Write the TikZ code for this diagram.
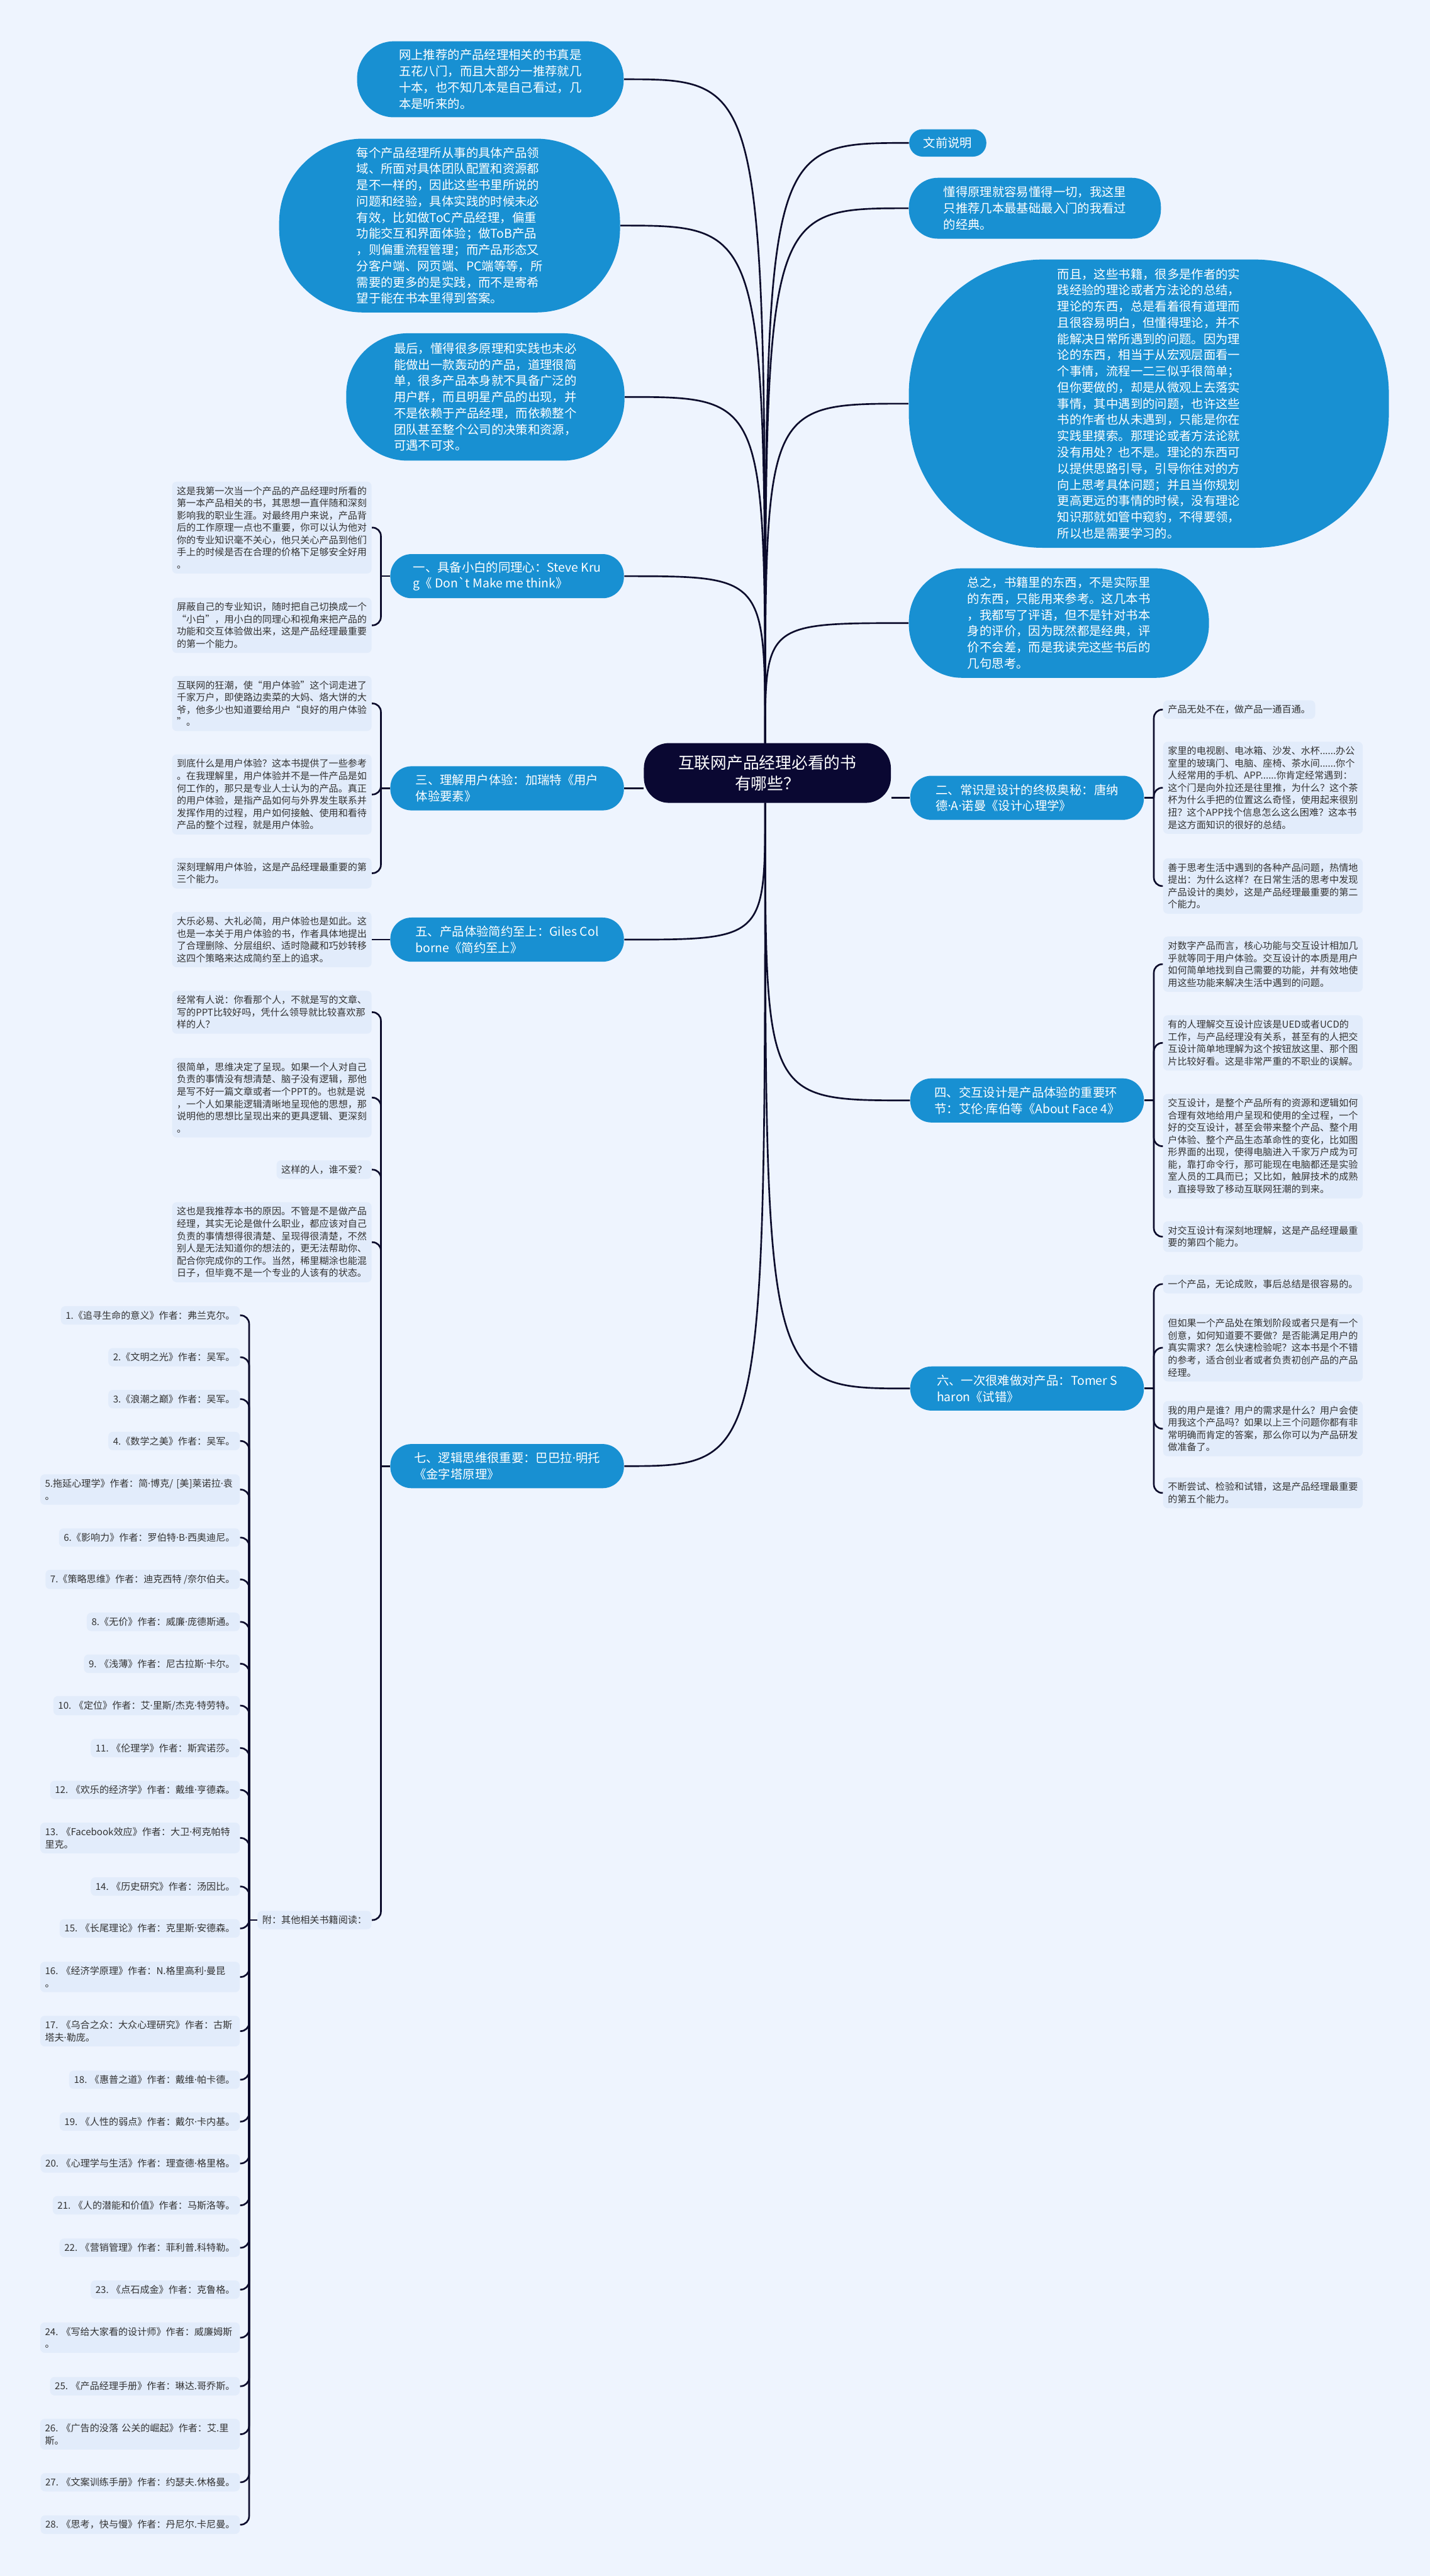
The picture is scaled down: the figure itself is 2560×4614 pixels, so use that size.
\documentclass[tikz,border=0pt]{standalone}
\usepackage{fontspec}
\setmainfont{Noto Sans CJK SC}
\newfontfamily\dotfont{Noto Sans}
\definecolor{bgcol}{HTML}{EEF4FE}
\definecolor{leafcol}{HTML}{E2ECFB}
\definecolor{bluecol}{HTML}{1890D2}
\definecolor{corecol}{HTML}{0A0832}
\definecolor{linecol}{HTML}{0C0C2C}
\newcommand\mdot{{\dotfont ·}}
\newcommand\leaffont{\fontsize{0.17cm}{0.22cm}\selectfont\hyphenpenalty=10000}
\newcommand\bubblefont{\fontsize{0.218cm}{0.29cm}\selectfont}
\newcommand\corefont{\fontsize{0.29cm}{0.37cm}\selectfont}
\begin{document}
\begin{tikzpicture}[x=0.01cm, y=0.01cm,
  link/.style={draw=linecol, line width=0.03cm},
  hook/.style={link, rounded corners=0.15cm},
  bubble/.style={fill=bluecol, text=white, rounded corners=#1, align=left, font=\bubblefont, inner sep=0pt},
  branch/.style={fill=bluecol, text=white, rounded corners=0.38cm, align=left, font=\bubblefont, minimum width=4.18cm, minimum height=0.79cm, inner sep=0pt},
  core/.style={fill=corecol, text=white, rounded corners=0.45cm, align=center, font=\corefont, minimum width=4.42cm, minimum height=1.07cm},
  leaf/.style={fill=leafcol, text=black!80, rounded corners=0.08cm, text width=3.4cm, align=left, font=\leaffont, inner sep=0.085cm},
  tag/.style={fill=leafcol, text=black!80, rounded corners=0.08cm, align=left, font=\leaffont, inner sep=0.085cm}]
\fill[bgcol] (0,0) rectangle (2560,-4614);
\useasboundingbox (0,0) rectangle (2560,-4614);

% centre
\node[core] (core) at (1374,-1384.5) {互联网产品经理必看的书\\有哪些？};
\coordinate (ctop) at (1370,-1331);
\coordinate (cbot) at (1370,-1438);

% foreword bubbles
\node[bubble=0.66cm, minimum width=4.77cm, minimum height=1.36cm] (intro1) at (878,-142) {网上推荐的产品经理相关的书真是\\五花八门，而且大部分一推荐就几\\十本，也不知几本是自己看过，几\\本是听来的。};
\node[bubble=1.5cm, minimum width=6.1cm, minimum height=3.11cm] (intro2) at (805,-404) {每个产品经理所从事的具体产品领\\域、所面对具体团队配置和资源都\\是不一样的，因此这些书里所说的\\问题和经验，具体实践的时候未必\\有效，比如做ToC产品经理，偏重\\功能交互和界面体验；做ToB产品\\，则偏重流程管理；而产品形态又\\分客户端、网页端、PC端等等，所\\需要的更多的是实践，而不是寄希\\望于能在书本里得到答案。};
\node[bubble=1.1cm, minimum width=4.98cm, minimum height=2.28cm] (intro3) at (869,-711) {最后，懂得很多原理和实践也未必\\能做出一款轰动的产品，道理很简\\单，很多产品本身就不具备广泛的\\用户群，而且明星产品的出现，并\\不是依赖于产品经理，而依赖整个\\团队甚至整个公司的决策和资源，\\可遇不可求。};
\node[bubble=0.24cm, minimum width=1.38cm, minimum height=0.49cm] (preface) at (1697,-256) {文前说明};
\node[bubble=0.52cm, minimum width=4.51cm, minimum height=1.09cm] (intro4) at (1853,-373) {懂得原理就容易懂得一切，我这里\\只推荐几本最基础最入门的我看过\\的经典。};
\node[bubble=2.4cm, minimum width=8.59cm, minimum height=5.16cm] (intro5) at (2057,-723) {而且，这些书籍，很多是作者的实\\践经验的理论或者方法论的总结，\\理论的东西，总是看着很有道理而\\且很容易明白，但懂得理论，并不\\能解决日常所遇到的问题。因为理\\论的东西，相当于从宏观层面看一\\个事情，流程一二三似乎很简单；\\但你要做的，却是从微观上去落实\\事情，其中遇到的问题，也许这些\\书的作者也从未遇到，只能是你在\\实践里摸索。那理论或者方法论就\\没有用处？也不是。理论的东西可\\以提供思路引导，引导你往对的方\\向上思考具体问题；并且当你规划\\更高更远的事情的时候，没有理论\\知识那就如管中窥豹，不得要领，\\所以也是需要学习的。};
\node[bubble=0.95cm, minimum width=5.37cm, minimum height=1.96cm] (intro6) at (1896,-1116) {总之，书籍里的东西，不是实际里\\的东西，只能用来参考。这几本书\\，我都写了评语，但不是针对书本\\身的评价，因为既然都是经典，评\\价不会差，而是我读完这些书后的\\几句思考。};

% chapters
\node[branch] (ch1) at (908,-1032) {一、具备小白的同理心：Steve Kru\\g《 Don\textasciigrave t Make me think》};
\node[branch] (ch3) at (908,-1412) {三、理解用户体验：加瑞特《用户\\体验要素》};
\node[branch] (ch5) at (908,-1683) {五、产品体验简约至上：Giles Col\\borne《简约至上》};
\node[branch] (ch7) at (908,-2626) {七、逻辑思维很重要：巴巴拉\mdot 明托\\《金字塔原理》};
\node[branch] (ch2) at (1839,-1429) {二、常识是设计的终极奥秘：唐纳\\德\mdot A\mdot 诺曼《设计心理学》};
\node[branch] (ch4) at (1839,-1971) {四、交互设计是产品体验的重要环\\节：艾伦\mdot 库伯等《About Face 4》};
\node[branch] (ch6) at (1839,-2487) {六、一次很难做对产品：Tomer S\\haron《试错》};

% centre to chapters
\draw[link] (ctop) .. controls (ctop |- intro1.east) .. (intro1.east);
\draw[link] (ctop) .. controls (ctop |- intro2.east) .. (intro2.east);
\draw[link] (ctop) .. controls (ctop |- intro3.east) .. (intro3.east);
\draw[link] (ctop) .. controls (ctop |- ch1.east) .. (ch1.east);
\draw[link] (ctop) .. controls (ctop |- preface.west) .. (preface.west);
\draw[link] (ctop) .. controls (ctop |- intro4.west) .. (intro4.west);
\draw[link] (ctop) .. controls (ctop |- intro5.west) .. (intro5.west);
\draw[link] (ctop) .. controls (ctop |- intro6.west) .. (intro6.west);
\draw[link] (ch3.east) -- (ch3.east -| core.west);
\draw[link] (core.east |- ch2.west) -- (ch2.west);
\draw[link] (cbot) .. controls (cbot |- ch5.east) .. (ch5.east);
\draw[link] (cbot) .. controls (cbot |- ch7.east) .. (ch7.east);
\draw[link] (cbot) .. controls (cbot |- ch4.west) .. (ch4.west);
\draw[link] (cbot) .. controls (cbot |- ch6.west) .. (ch6.west);

% chapter one
\node[leaf, anchor=east] (n1a) at (666,-945) {这是我第一次当一个产品的产品经理时所看的\\第一本产品相关的书，其思想一直伴随和深刻\\影响我的职业生涯。对最终用户来说，产品背\\后的工作原理一点也不重要，你可以认为他对\\你的专业知识毫不关心，他只关心产品到他们\\手上的时候是否在合理的价格下足够安全好用\\。};
\node[leaf, anchor=east] (n1b) at (666,-1120) {屏蔽自己的专业知识，随时把自己切换成一个\\“小白”，用小白的同理心和视角来把产品的\\功能和交互体验做出来，这是产品经理最重要\\的第一个能力。};
\coordinate (hub1) at (682,-1032);
\draw[link] (ch1.west) -- (hub1);
\draw[hook] (hub1) |- (n1a.east);
\draw[hook] (hub1) |- (n1b.east);

% chapter three
\node[leaf, anchor=east] (n3a) at (666,-1260) {互联网的狂潮，使“用户体验”这个词走进了\\千家万户，即使路边卖菜的大妈、烙大饼的大\\爷，他多少也知道要给用户“良好的用户体验\\”。};
\node[leaf, anchor=east] (n3b) at (666,-1423) {到底什么是用户体验？这本书提供了一些参考\\。在我理解里，用户体验并不是一件产品是如\\何工作的，那只是专业人士认为的产品。真正\\的用户体验，是指产品如何与外界发生联系并\\发挥作用的过程，用户如何接触、使用和看待\\产品的整个过程，就是用户体验。};
\node[leaf, anchor=east] (n3c) at (666,-1564) {深刻理解用户体验，这是产品经理最重要的第\\三个能力。};
\coordinate (hub3) at (682,-1412);
\draw[link] (ch3.west) -- (hub3);
\draw[hook] (hub3) |- (n3a.east);
\draw[hook] (hub3) |- (n3b.east);
\draw[hook] (hub3) |- (n3c.east);

% chapter five
\node[leaf, anchor=east] (n5) at (666,-1683) {大乐必易、大礼必简，用户体验也是如此。这\\也是一本关于用户体验的书，作者具体地提出\\了合理删除、分层组织、适时隐藏和巧妙转移\\这四个策略来达成简约至上的追求。};
\draw[link] (ch5.west) -- (n5.east);

% chapter seven
\node[leaf, anchor=east] (n7a) at (666,-1813) {经常有人说：你看那个人，不就是写的文章、\\写的PPT比较好吗，凭什么领导就比较喜欢那\\样的人？};
\node[leaf, anchor=east] (n7b) at (666,-1966) {很简单，思维决定了呈现。如果一个人对自己\\负责的事情没有想清楚、脑子没有逻辑，那他\\是写不好一篇文章或者一个PPT的。也就是说\\，一个人如果能逻辑清晰地呈现他的思想，那\\说明他的思想比呈现出来的更具逻辑、更深刻\\。};
\node[tag, anchor=east] (n7c) at (666,-2095) {这样的人，谁不爱？};
\node[leaf, anchor=east] (n7d) at (666,-2225) {这也是我推荐本书的原因。不管是不是做产品\\经理，其实无论是做什么职业，都应该对自己\\负责的事情想得很清楚、呈现得很清楚，不然\\别人是无法知道你的想法的，更无法帮助你、\\配合你完成你的工作。当然，稀里糊涂也能混\\日子，但毕竟不是一个专业的人该有的状态。};
\node[tag, anchor=east] (n7e) at (666,-3439) {附：其他相关书籍阅读：};
\coordinate (hub7) at (682,-2626);
\draw[link] (ch7.west) -- (hub7);
\draw[hook] (hub7) |- (n7a.east);
\draw[hook] (hub7) |- (n7b.east);
\draw[hook] (hub7) |- (n7c.east);
\draw[hook] (hub7) |- (n7d.east);
\draw[hook] (hub7) |- (n7e.east);

% reading list
\node[tag, anchor=east] (book1) at (430,-2356) {1.《追寻生命的意义》作者：弗兰克尔。};
\node[tag, anchor=east] (book2) at (430,-2431) {2.《文明之光》作者：吴军。};
\node[tag, anchor=east] (book3) at (430,-2506) {3.《浪潮之巅》作者：吴军。};
\node[tag, anchor=east] (book4) at (430,-2581) {4.《数学之美》作者：吴军。};
\node[leaf, anchor=east] (book5) at (430,-2668) {5.拖延心理学》作者：简\mdot 博克/~[美]莱诺拉\mdot 袁\\。};
\node[tag, anchor=east] (book6) at (430,-2754) {6.《影响力》作者：罗伯特\mdot B\mdot 西奥迪尼。};
\node[tag, anchor=east] (book7) at (430,-2829) {7.《策略思维》作者：迪克西特 /奈尔伯夫。};
\node[tag, anchor=east] (book8) at (430,-2905) {8.《无价》作者：威廉\mdot 庞德斯通。};
\node[tag, anchor=east] (book9) at (430,-2980) {9. 《浅薄》作者：尼古拉斯\mdot 卡尔。};
\node[tag, anchor=east] (book10) at (430,-3055) {10. 《定位》作者：艾\mdot 里斯/杰克\mdot 特劳特。};
\node[tag, anchor=east] (book11) at (430,-3131) {11. 《伦理学》作者：斯宾诺莎。};
\node[tag, anchor=east] (book12) at (430,-3206) {12. 《欢乐的经济学》作者：戴维\mdot 亨德森。};
\node[leaf, anchor=east] (book13) at (430,-3292) {13.~《Facebook效应》作者：大卫\mdot 柯克帕特\\里克。};
\node[tag, anchor=east] (book14) at (430,-3379) {14. 《历史研究》作者：汤因比。};
\node[tag, anchor=east] (book15) at (430,-3454) {15. 《长尾理论》作者：克里斯\mdot 安德森。};
\node[leaf, anchor=east] (book16) at (430,-3541) {16.~《经济学原理》作者：N.格里高利\mdot 曼昆\\。};
\node[leaf, anchor=east] (book17) at (430,-3638) {17.~《乌合之众：大众心理研究》作者：古斯\\塔夫\mdot 勒庞。};
\node[tag, anchor=east] (book18) at (430,-3725) {18. 《惠普之道》作者：戴维\mdot 帕卡德。};
\node[tag, anchor=east] (book19) at (430,-3800) {19. 《人性的弱点》作者：戴尔\mdot 卡内基。};
\node[tag, anchor=east] (book20) at (430,-3875) {20. 《心理学与生活》作者：理查德\mdot 格里格。};
\node[tag, anchor=east] (book21) at (430,-3950) {21. 《人的潜能和价值》作者：马斯洛等。};
\node[tag, anchor=east] (book22) at (430,-4026) {22. 《营销管理》作者：菲利普.科特勒。};
\node[tag, anchor=east] (book23) at (430,-4101) {23. 《点石成金》作者：克鲁格。};
\node[leaf, anchor=east] (book24) at (430,-4187) {24.~《写给大家看的设计师》作者：威廉姆斯\\。};
\node[tag, anchor=east] (book25) at (430,-4274) {25. 《产品经理手册》作者：琳达.哥乔斯。};
\node[leaf, anchor=east] (book26) at (430,-4360) {26.~《广告的没落~公关的崛起》作者：艾.里\\斯。};
\node[tag, anchor=east] (book27) at (430,-4446) {27. 《文案训练手册》作者：约瑟夫.休格曼。};
\node[tag, anchor=east] (book28) at (430,-4522) {28. 《思考，快与慢》作者：丹尼尔.卡尼曼。};
\coordinate (hubL) at (446,-3439);
\draw[link] (n7e.west) -- (hubL);
\draw[hook] (hubL) |- (book1.east);
\draw[hook] (hubL) |- (book2.east);
\draw[hook] (hubL) |- (book3.east);
\draw[hook] (hubL) |- (book4.east);
\draw[hook] (hubL) |- (book5.east);
\draw[hook] (hubL) |- (book6.east);
\draw[hook] (hubL) |- (book7.east);
\draw[hook] (hubL) |- (book8.east);
\draw[hook] (hubL) |- (book9.east);
\draw[hook] (hubL) |- (book10.east);
\draw[hook] (hubL) |- (book11.east);
\draw[hook] (hubL) |- (book12.east);
\draw[hook] (hubL) |- (book13.east);
\draw[hook] (hubL) |- (book14.east);
\draw[hook] (hubL) |- (book15.east);
\draw[hook] (hubL) |- (book16.east);
\draw[hook] (hubL) |- (book17.east);
\draw[hook] (hubL) |- (book18.east);
\draw[hook] (hubL) |- (book19.east);
\draw[hook] (hubL) |- (book20.east);
\draw[hook] (hubL) |- (book21.east);
\draw[hook] (hubL) |- (book22.east);
\draw[hook] (hubL) |- (book23.east);
\draw[hook] (hubL) |- (book24.east);
\draw[hook] (hubL) |- (book25.east);
\draw[hook] (hubL) |- (book26.east);
\draw[hook] (hubL) |- (book27.east);
\draw[hook] (hubL) |- (book28.east);

% chapter two
\node[tag, anchor=west] (n2a) at (2082,-1271) {产品无处不在，做产品一通百通。};
\node[leaf, anchor=west] (n2b) at (2082,-1411) {家里的电视剧、电冰箱、沙发、水杯......办公\\室里的玻璃门、电脑、座椅、茶水间......你个\\人经常用的手机、APP......你肯定经常遇到：\\这个门是向外拉还是往里推，为什么？这个茶\\杯为什么手把的位置这么奇怪，使用起来很别\\扭？这个APP找个信息怎么这么困难？这本书\\是这方面知识的很好的总结。};
\node[leaf, anchor=west] (n2c) at (2082,-1587) {善于思考生活中遇到的各种产品问题，热情地\\提出：为什么这样？在日常生活的思考中发现\\产品设计的奥妙，这是产品经理最重要的第二\\个能力。};
\coordinate (hub2) at (2066,-1429);
\draw[link] (ch2.east) -- (hub2);
\draw[hook] (hub2) |- (n2a.west);
\draw[hook] (hub2) |- (n2b.west);
\draw[hook] (hub2) |- (n2c.west);

% chapter four
\node[leaf, anchor=west] (n4a) at (2082,-1727) {对数字产品而言，核心功能与交互设计相加几\\乎就等同于用户体验。交互设计的本质是用户\\如何简单地找到自己需要的功能，并有效地使\\用这些功能来解决生活中遇到的问题。};
\node[leaf, anchor=west] (n4b) at (2082,-1868) {有的人理解交互设计应该是UED或者UCD的\\工作，与产品经理没有关系，甚至有的人把交\\互设计简单地理解为这个按钮放这里、那个图\\片比较好看。这是非常严重的不职业的误解。};
\node[leaf, anchor=west] (n4c) at (2082,-2053) {交互设计，是整个产品所有的资源和逻辑如何\\合理有效地给用户呈现和使用的全过程，一个\\好的交互设计，甚至会带来整个产品、整个用\\户体验、整个产品生态革命性的变化，比如图\\形界面的出现，使得电脑进入千家万户成为可\\能，靠打命令行，那可能现在电脑都还是实验\\室人员的工具而已；又比如，触屏技术的成熟\\，直接导致了移动互联网狂潮的到来。};
\node[leaf, anchor=west] (n4d) at (2082,-2215) {对交互设计有深刻地理解，这是产品经理最重\\要的第四个能力。};
\coordinate (hub4) at (2066,-1971);
\draw[link] (ch4.east) -- (hub4);
\draw[hook] (hub4) |- (n4a.west);
\draw[hook] (hub4) |- (n4b.west);
\draw[hook] (hub4) |- (n4c.west);
\draw[hook] (hub4) |- (n4d.west);

% chapter six
\node[tag, anchor=west] (n6a) at (2082,-2300) {一个产品，无论成败，事后总结是很容易的。};
\node[leaf, anchor=west] (n6b) at (2082,-2414) {但如果一个产品处在策划阶段或者只是有一个\\创意，如何知道要不要做？是否能满足用户的\\真实需求？怎么快速检验呢？这本书是个不错\\的参考，适合创业者或者负责初创产品的产品\\经理。};
\node[leaf, anchor=west] (n6c) at (2082,-2559) {我的用户是谁？用户的需求是什么？用户会使\\用我这个产品吗？如果以上三个问题你都有非\\常明确而肯定的答案，那么你可以为产品研发\\做准备了。};
\node[leaf, anchor=west] (n6d) at (2082,-2674) {不断尝试、检验和试错，这是产品经理最重要\\的第五个能力。};
\coordinate (hub6) at (2066,-2487);
\draw[link] (ch6.east) -- (hub6);
\draw[hook] (hub6) |- (n6a.west);
\draw[hook] (hub6) |- (n6b.west);
\draw[hook] (hub6) |- (n6c.west);
\draw[hook] (hub6) |- (n6d.west);
\end{tikzpicture}
\end{document}
